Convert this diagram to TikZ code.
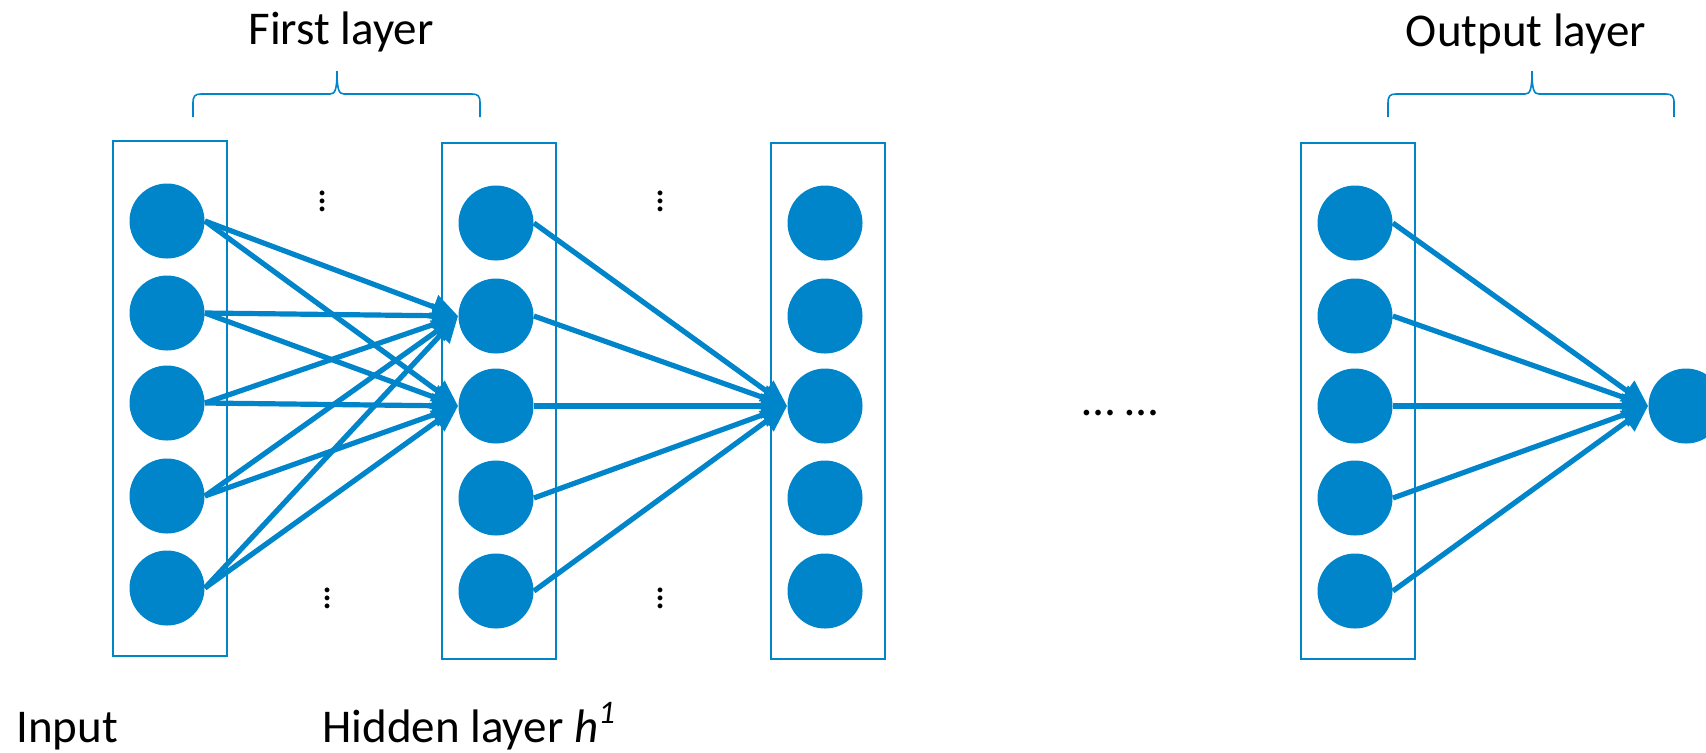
\documentclass[tikz,border=0pt]{standalone}
\usepackage{fontspec}
\setmainfont{Carlito}
\usetikzlibrary{arrows.meta}
\definecolor{nnblue}{RGB}{0,132,202}
\begin{document}
\begin{tikzpicture}[x=0.5pt,y=-0.5pt,
 neuron/.style={circle,fill=nnblue,draw=none,minimum size=37.5pt,inner sep=0pt},
 layerbox/.style={draw=nnblue,line width=1.2pt,rectangle,minimum width=57pt,inner sep=0pt},
 conn/.style={draw=nnblue,line width=2.6pt,-{Triangle[length=13pt,width=12pt]}},
 bracepath/.style={draw=nnblue,line width=0.8pt},
 lbl/.style={font=\fontsize{23.5}{28}\selectfont,inner sep=0pt},
 vd/.style={font=\fontsize{20}{20}\selectfont,inner sep=0pt,anchor=base}]
\useasboundingbox (0,0) rectangle (1706,752);
\clip (0,0) rectangle (1706,752);

% layer boxes
\node[layerbox,minimum height=257.7pt] (bin) at (169.7,398.4) {};
\node[layerbox,minimum height=258pt] (bh) at (499,400.7) {};
\node[layerbox,minimum height=258pt] (b3) at (828,400.7) {};
\node[layerbox,minimum height=258pt] (b4) at (1358,400.7) {};

% neurons
\foreach \i/\y in {1/221,2/313,3/403,4/496,5/588}
  \node[neuron] (i\i) at (167,\y) {};
\foreach \i/\y in {1/223,2/316,3/406,4/498,5/591}{
  \node[neuron] (h\i) at (496,\y) {};
  \node[neuron] (c\i) at (825,\y) {};
  \node[neuron] (d\i) at (1355,\y) {};
}
\node[neuron] (out) at (1686,406) {};

% connectors
\foreach \i in {1,...,5}{
  \draw[conn] (i\i.east) -- (h2.west);
  \draw[conn] (i\i.east) -- (h3.west);
  \draw[conn] (h\i.east) -- (c3.west);
  \draw[conn] (d\i.east) -- (out.west);
}

% braces
\draw[bracepath] (193,117) -- (193,103) .. controls (193,96) and (195,94) .. (201,94) -- (330,94)
  .. controls (335,94) and (337,90) .. (337,71)
  .. controls (337,90) and (339,94) .. (344,94) -- (472,94)
  .. controls (478,94) and (480,96) .. (480,103) -- (480,117);
\draw[bracepath] (1388,117) -- (1388,103) .. controls (1388,96) and (1390,94) .. (1396,94) -- (1525,94)
  .. controls (1530,94) and (1532,90) .. (1532,71)
  .. controls (1532,90) and (1534,94) .. (1539,94) -- (1666,94)
  .. controls (1672,94) and (1674,96) .. (1674,103) -- (1674,117);

% labels
\node[lbl,anchor=base] (t1) at (341,44) {First layer};
\node[lbl,anchor=base] (t2) at (1526,46) {Output layer};
\node[lbl,anchor=base west] (t3) at (16,742) {Input};
\node[lbl,anchor=base west] (t4) at (322,742) {Hidden layer \textit{h}\textsuperscript{\textit{1}}};
\node[lbl,anchor=base] (dd) at (1120,415) {… …};

% vertical dots
\node[vd] (v1) at (323,211) {$\vdots$};
\node[vd] (v2) at (661,211) {$\vdots$};
\node[vd] (v3) at (328,608) {$\vdots$};
\node[vd] (v4) at (661,608) {$\vdots$};
\end{tikzpicture}
\end{document}
